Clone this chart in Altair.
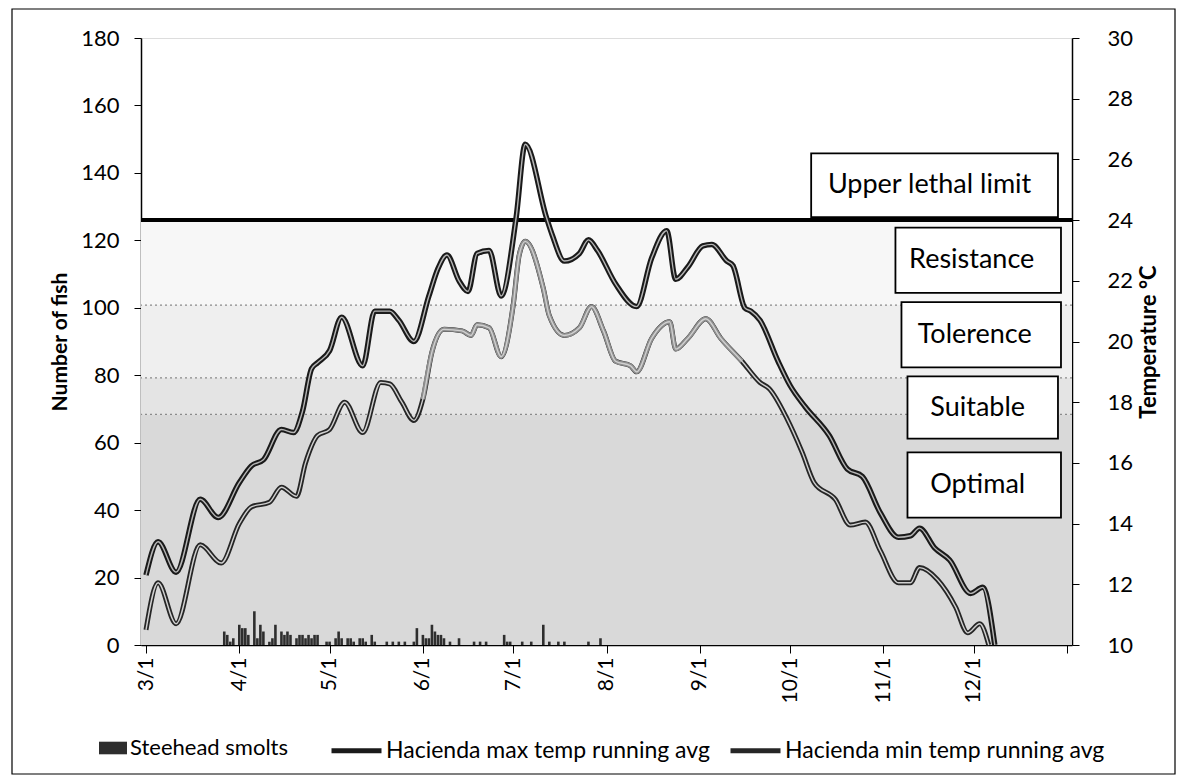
import altair as alt
import pandas as pd

YEAR = 2011
FONT = "Lato"

# ---------------- data ----------------
smolt_name = "Steehead smolts"
max_name = "Hacienda max temp running avg"
min_name = "Hacienda min temp running avg"

smolt_dates = ["03-27", "03-28", "03-29", "03-30", "04-01", "04-02", "04-03", "04-04",
               "04-06", "04-07", "04-08", "04-09", "04-11", "04-12", "04-13", "04-15",
               "04-16", "04-17", "04-18", "04-20", "04-21", "04-22", "04-23", "04-24",
               "04-25", "04-26", "04-27", "04-30", "05-01", "05-03", "05-04", "05-05",
               "05-07", "05-08", "05-09", "05-11", "05-12", "05-13", "05-15", "05-16",
               "05-20", "05-22", "05-24", "05-26", "05-29", "05-30", "06-01", "06-02",
               "06-03", "06-04", "06-05", "06-06", "06-07", "06-08", "06-10", "06-13",
               "06-18", "06-20", "06-22", "06-28", "06-29", "06-30", "07-04", "07-07",
               "07-11", "07-13", "07-16", "07-18", "07-26", "07-30"]
smolt_counts = [4, 3, 1, 2, 6, 5, 5, 3,
                10, 2, 6, 4, 1, 2, 6, 4,
                3, 4, 3, 2, 3, 3, 2, 3,
                2, 3, 3, 1, 1, 2, 4, 2,
                2, 2, 1, 2, 2, 1, 3, 1,
                1, 1, 1, 1, 1, 5, 3, 2,
                2, 6, 4, 3, 3, 2, 1, 2,
                1, 1, 1, 3, 1, 1, 1, 1,
                6, 1, 1, 1, 1, 2]

max_dates = ["03-01", "03-05", "03-11", "03-19", "03-25", "04-01", "04-05", "04-09",
             "04-15", "04-19", "04-22", "04-25", "04-27", "05-01", "05-05", "05-12",
             "05-16", "05-21", "05-24", "05-29", "06-03", "06-06", "06-09", "06-13",
             "06-16", "06-19", "06-23", "06-27", "07-02", "07-05", "07-12", "07-14",
             "07-18", "07-23", "07-26", "07-29", "08-04", "08-11", "08-16", "08-21",
             "08-24", "08-28", "09-02", "09-05", "09-10", "09-12", "09-16", "09-18",
             "09-21", "09-27", "10-01", "10-06", "10-14", "10-20", "10-25", "10-31",
             "11-06", "11-10", "11-13", "11-18", "11-23", "11-30", "12-04", "12-08"]
max_temps = [12.3, 13.4, 12.4, 14.8, 14.2, 15.35, 15.9, 16.1,
             17.1, 17.0, 17.7, 19.1, 19.3, 19.7, 20.8, 19.2,
             21.0, 21.0, 20.7, 20.0, 21.5, 22.4, 22.85, 22.0,
             21.65, 22.9, 23.0, 21.5, 24.1, 26.5, 24.1, 23.5,
             22.65, 22.9, 23.35, 23.0, 21.9, 21.15, 22.75, 23.65,
             22.05, 22.45, 23.15, 23.2, 22.65, 22.5, 21.1, 21.0,
             20.7, 19.35, 18.55, 17.85, 16.9, 15.8, 15.55, 14.35,
             13.55, 13.6, 13.85, 13.2, 12.8, 11.7, 11.9, 10.0]

min_dates = ["03-01", "03-05", "03-11", "03-19", "03-26", "04-01", "04-05", "04-11",
             "04-15", "04-20", "04-23", "04-27", "05-01", "05-06", "05-12", "05-18",
             "05-21", "05-25", "05-29", "06-01", "06-04", "06-08", "06-14", "06-17",
             "06-19", "06-23", "06-27", "07-01", "07-03", "07-05", "07-11", "07-13",
             "07-18", "07-23", "07-27", "07-31", "08-04", "08-09", "08-11", "08-16",
             "08-22", "08-24", "08-28", "09-03", "09-08", "09-15", "09-21", "09-24",
             "09-30", "10-05", "10-09", "10-16", "10-21", "10-26", "10-31", "11-06",
             "11-10", "11-13", "11-19", "11-25", "11-29", "12-03", "12-06"]
min_temps = [10.5, 12.05, 10.7, 13.3, 12.7, 14.0, 14.55, 14.7,
             15.2, 14.9, 16.0, 16.9, 17.1, 18.0, 17.0, 18.65,
             18.6, 18.0, 17.4, 18.1, 19.65, 20.4, 20.35, 20.2,
             20.55, 20.45, 19.5, 21.2, 22.85, 23.3, 21.75, 20.85,
             20.2, 20.45, 21.15, 20.35, 19.35, 19.2, 19.0, 20.1,
             20.65, 19.75, 20.1, 20.75, 20.1, 19.35, 18.65, 18.45,
             17.45, 16.35, 15.35, 14.8, 13.95, 14.05, 13.1, 12.05,
             12.05, 12.55, 12.15, 11.25, 10.4, 10.7, 10.0]

zone_names = ["Optimal", "Suitable", "Tolerence", "Resistance"]
zone_low = [10.0, 17.6, 18.8, 21.2]
zone_high = [17.6, 18.8, 21.2, 24.0]
lethal_limit = 24.0

box_labels = ["Upper lethal limit", "Resistance", "Tolerence", "Suitable", "Optimal"]
box_start = ["10-08", "11-05", "11-07", "11-09", "11-09"]
box_end = ["12-29", "12-30", "12-30", "12-29", "12-30"]
box_low = [24.1, 21.6, 19.15, 16.8, 14.2]
box_high = [26.2, 23.75, 21.3, 18.85, 16.35]

month_ticks = [3, 4, 5, 6, 7, 8, 9, 10, 11, 12]

# ---------------- styles ----------------
zone_shades = ["#d9d9d9", "#e4e4e4", "#efefef", "#f7f7f7"]
W, H = 931, 607
PAD = {"left": 133, "top": 30, "right": 104, "bottom": 130}


def iso(md):
    return f"{YEAR}-{md}"


smolts = pd.DataFrame({"date": [iso(d) for d in smolt_dates], "count": smolt_counts,
                       "series": smolt_name})
tmax = pd.DataFrame({"date": [iso(d) for d in max_dates], "temp": max_temps, "series": max_name})
tmin = pd.DataFrame({"date": [iso(d) for d in min_dates], "temp": min_temps, "series": min_name})
zones = pd.DataFrame({"zone": zone_names, "lo": zone_low, "hi": zone_high, "shade": zone_shades})
lethal = pd.DataFrame({"t": [lethal_limit]})
bs = pd.to_datetime([iso(d) for d in box_start])
be = pd.to_datetime([iso(d) for d in box_end])
boxes = pd.DataFrame({
    "label": box_labels,
    "start": [d.strftime("%Y-%m-%d") for d in bs],
    "end": [d.strftime("%Y-%m-%d") for d in be],
    "mid": [(a + (b - a) / 2).strftime("%Y-%m-%d") for a, b in zip(bs, be)],
    "lo": box_low, "hi": box_high,
    "tm": [(a + b) / 2 for a, b in zip(box_low, box_high)],
})

x_scale = alt.Scale(type="utc", domain=[alt.DateTime(year=YEAR, month=3, date=1, utc=True),
                                         alt.DateTime(year=YEAR + 1, month=1, date=1, utc=True)])
tick_values = [alt.DateTime(year=YEAR, month=m, date=1, utc=True) for m in month_ticks] + \
              [alt.DateTime(year=YEAR + 1, month=1, date=1, utc=True)]
x_axis = alt.Axis(values=tick_values, labelAngle=270, grid=False, tickSize=8,
                  labelExpr="utcmonth(datum.value) == 0 ? '' : (utcmonth(datum.value) + 1) + '/' + utcdate(datum.value)",
                  labelFontSize=21, labelPadding=4, domainColor="black", tickColor="black",
                  domainWidth=1.5, labelColor="black", labelFont=FONT, title=None)

temp_scale = alt.Scale(domain=[10, 30], nice=False, zero=False)
count_scale = alt.Scale(domain=[0, 180], nice=False, zero=True)


def X(field):
    return alt.X(field, type="temporal", scale=x_scale, axis=x_axis, title=None)


def TY(field, axis=None):
    return alt.Y(field, type="quantitative", scale=temp_scale, axis=axis)


right_axis = alt.Axis(orient="right", values=list(range(10, 31, 2)), title="Temperature °C",
                      titleAngle=270, titleBaseline="top", titleFontSize=22, titleFontWeight="bold",
                      titleFont=FONT, titlePadding=6, titleColor="black", labelFontSize=22,
                      labelFont=FONT, labelColor="black", labelPadding=28, tickSize=7,
                      tickColor="black", domainColor="black", domainWidth=1.5, grid=False)
left_axis = alt.Axis(orient="left", values=list(range(0, 181, 20)), title="Number of fish",
                     titleFontSize=21, titleFontWeight="bold", titleFont=FONT, titlePadding=10,
                     titleColor="black", labelFontSize=22, labelFont=FONT, labelColor="black",
                     labelPadding=15, tickSize=7, tickColor="black", domainColor="black",
                     domainWidth=1.5, grid=False)

# --- background: zones, boundaries, lethal limit ---
bands = alt.Chart(zones).mark_rect().encode(
    x=alt.value(0), x2=alt.value(W),
    y=TY("lo"), y2="hi",
    color=alt.Color("shade:N", scale=None),
)
bounds = alt.Chart(zones).transform_filter(alt.datum.hi < lethal_limit).mark_rule(
    color="#8a8a8a", strokeDash=[2, 3], strokeWidth=1.2).encode(y=TY("hi"))
lethal_rule = alt.Chart(lethal).mark_rule(color="black", strokeWidth=4).encode(
    y=TY("t", right_axis))

# --- bars ---
bars = alt.Chart(smolts).mark_bar(size=2.6).encode(
    x=X("date"),
    y=alt.Y("count:Q", scale=count_scale, axis=left_axis),
    fill=alt.Fill("series:N", scale=alt.Scale(domain=[smolt_name], range=["#2e2e2e"]),
                  legend=alt.Legend(orient="none", legendX=-42, legendY=696, title=None,
                                    symbolType="M-1,-0.45H1V0.45H-1Z", symbolSize=784,
                                    symbolStrokeWidth=0, labelFontSize=22, labelFont=FONT,
                                    labelColor="black", labelLimit=500, labelOffset=3, padding=0)),
)

# --- temperature lines ---
line_legend = alt.Legend(orient="none", direction="horizontal", legendX=188, legendY=685, title=None,
                         symbolType="stroke", symbolSize=2500, symbolStrokeWidth=5,
                         labelFontSize=23, labelFont=FONT, labelColor="black", labelLimit=500,
                         labelOffset=2, columnPadding=10, padding=0)
max_outer = alt.Chart(tmax).mark_line(strokeWidth=5.5, interpolate="monotone").encode(
    x=X("date"), y=TY("temp"),
    stroke=alt.Stroke("series:N", scale=alt.Scale(domain=[max_name, min_name],
                                                  range=["#1a1a1a", "#262626"]),
                      legend=line_legend),
)
max_inner = alt.Chart(tmax).mark_line(strokeWidth=1.4, color="#b5b5b5", interpolate="monotone").encode(
    x=X("date"), y=TY("temp"))
min_outer = alt.Chart(tmin).mark_line(strokeWidth=5, interpolate="monotone").encode(
    x=X("date"), y=TY("temp"), stroke=alt.Stroke("series:N"))
min_mid = alt.Chart(tmin).transform_filter(
    alt.FieldRangePredicate(field="date", range=[alt.DateTime(year=YEAR, month=6, date=1, utc=True),
                                                 alt.DateTime(year=YEAR, month=9, date=15, utc=True)])
).mark_line(strokeWidth=4.5, color="#8f8f8f", interpolate="monotone").encode(x=X("date"), y=TY("temp"))
min_inner = alt.Chart(tmin).mark_line(strokeWidth=1.4, color="#d0d0d0", interpolate="monotone").encode(
    x=X("date"), y=TY("temp"))

# --- labelled boxes ---
box_rects = alt.Chart(boxes).mark_rect(fill="white", stroke="black", strokeWidth=1.8).encode(
    x=X("start"), x2="end", y=TY("lo"), y2="hi")
box_text = alt.Chart(boxes).mark_text(font=FONT, fontSize=27, color="black", dx=-5).encode(
    x=X("mid"), y=TY("tm"), text="label:N")

frame = alt.Chart(pd.DataFrame({"k": [0]})).mark_rect(fill="transparent", stroke="black",
                                                      strokeWidth=1.2).encode(
    x=alt.value(-129), x2=alt.value(W + PAD["right"] - 1),
    y=alt.value(-29), y2=alt.value(H + PAD["bottom"] - 1))

chart = alt.layer(
    bands, bounds, lethal_rule, bars,
    max_outer, max_inner, min_outer, min_mid, min_inner,
    box_rects, box_text, frame,
).resolve_scale(y="independent").properties(
    width=W, height=H,
    autosize=alt.AutoSizeParams(type="none"),
    padding=PAD,
).configure_view(stroke=None).configure(background="white")

chart.save("out.html", embed_options={"renderer": "svg", "actions": False})
